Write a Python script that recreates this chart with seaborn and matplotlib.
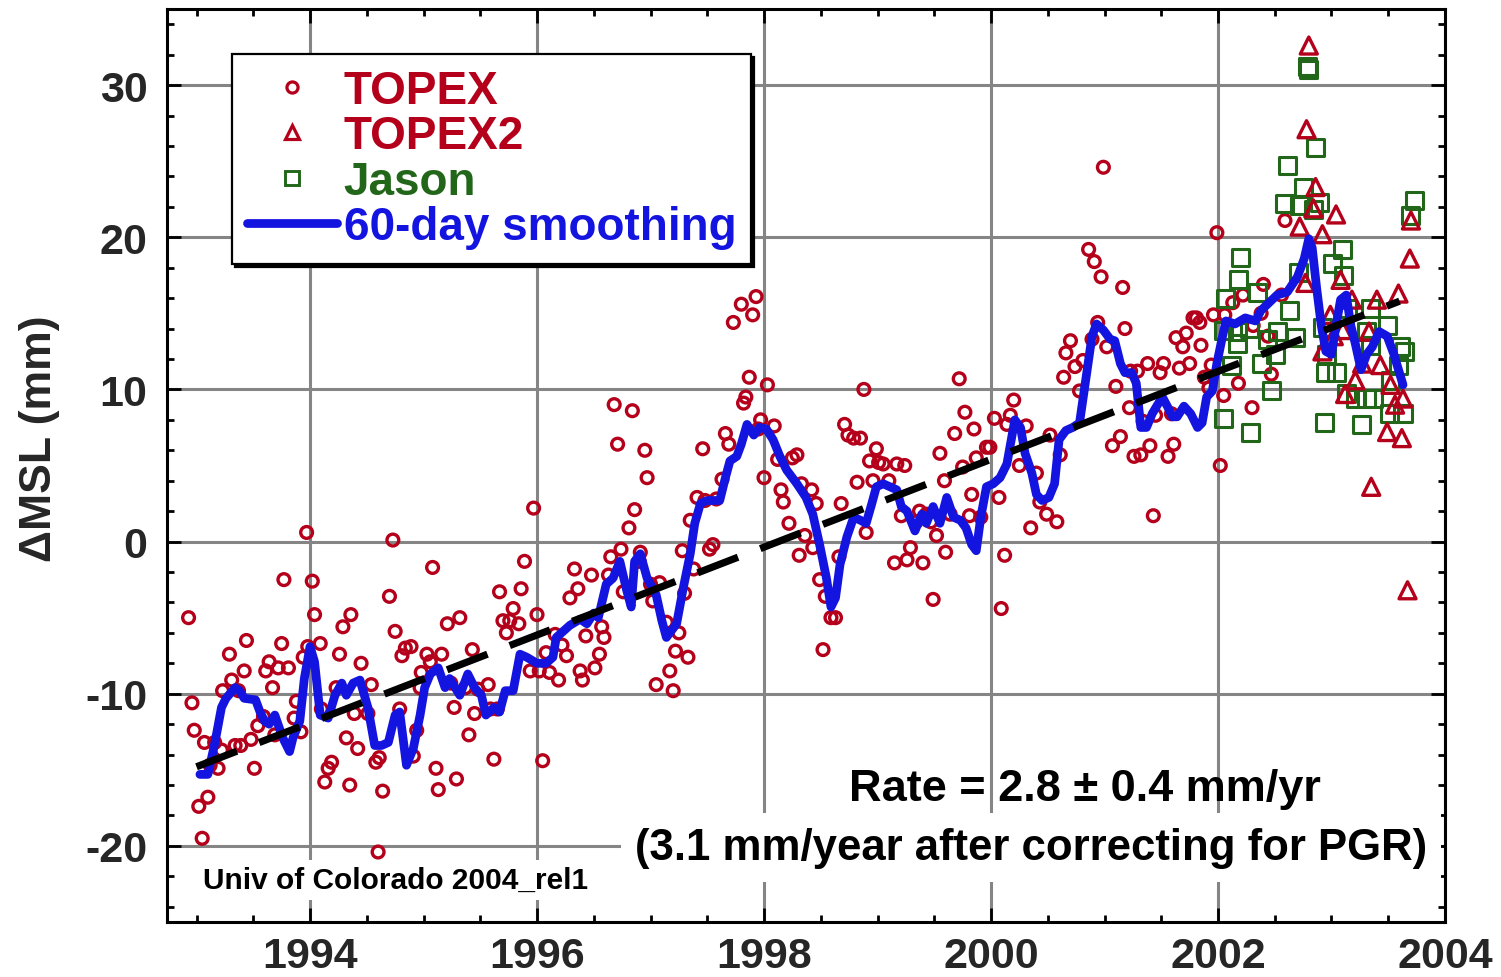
import matplotlib
matplotlib.use("Agg")
import matplotlib.pyplot as plt
from matplotlib.lines import Line2D
from matplotlib.ticker import MultipleLocator
import seaborn as sns
import pandas as pd

# ---------------- data ----------------
topex_year = [1992.93, 1992.96, 1992.98, 1993.02, 1993.05, 1993.07, 1993.10, 1993.12, 1993.16, 1993.19,
              1993.22, 1993.23, 1993.29, 1993.31, 1993.34, 1993.37, 1993.39, 1993.42, 1993.44, 1993.48,
              1993.51, 1993.54, 1993.59, 1993.61, 1993.64, 1993.67, 1993.69, 1993.72, 1993.75, 1993.77,
              1993.81, 1993.86, 1993.88, 1993.92, 1993.94, 1993.97, 1993.98, 1994.02, 1994.04, 1994.09,
              1994.10, 1994.13, 1994.16, 1994.19, 1994.23, 1994.26, 1994.29, 1994.32, 1994.35, 1994.36,
              1994.39, 1994.42, 1994.45, 1994.51, 1994.54, 1994.58, 1994.60, 1994.61, 1994.64, 1994.70,
              1994.73, 1994.75, 1994.79, 1994.81, 1994.84, 1994.89, 1994.91, 1994.94, 1994.97, 1994.98,
              1995.03, 1995.06, 1995.08, 1995.11, 1995.13, 1995.16, 1995.21, 1995.24, 1995.27, 1995.29,
              1995.32, 1995.37, 1995.40, 1995.43, 1995.45, 1995.48, 1995.57, 1995.59, 1995.62, 1995.65,
              1995.67, 1995.70, 1995.73, 1995.76, 1995.79, 1995.84, 1995.86, 1995.89, 1995.94, 1995.97,
              1996.00, 1996.02, 1996.05, 1996.08, 1996.11, 1996.16, 1996.19, 1996.22, 1996.26, 1996.29,
              1996.33, 1996.36, 1996.38, 1996.40, 1996.43, 1996.48, 1996.51, 1996.55, 1996.57, 1996.59,
              1996.63, 1996.65, 1996.68, 1996.71, 1996.74, 1996.76, 1996.81, 1996.84, 1996.86, 1996.90,
              1996.91, 1996.95, 1996.97, 1997.00, 1997.02, 1997.05, 1997.08, 1997.14, 1997.17, 1997.20,
              1997.22, 1997.25, 1997.28, 1997.30, 1997.33, 1997.35, 1997.38, 1997.41, 1997.46, 1997.48,
              1997.52, 1997.55, 1997.58, 1997.63, 1997.66, 1997.69, 1997.73, 1997.80, 1997.82, 1997.84,
              1997.87, 1997.90, 1997.93, 1997.95, 1997.97, 1998.00, 1998.03, 1998.09, 1998.12, 1998.15,
              1998.17, 1998.22, 1998.25, 1998.29, 1998.31, 1998.33, 1998.36, 1998.42, 1998.43, 1998.46,
              1998.49, 1998.52, 1998.54, 1998.59, 1998.63, 1998.66, 1998.68, 1998.71, 1998.74, 1998.79,
              1998.82, 1998.85, 1998.88, 1998.90, 1998.93, 1998.96, 1998.99, 1999.01, 1999.05, 1999.10,
              1999.15, 1999.17, 1999.21, 1999.24, 1999.26, 1999.29, 1999.34, 1999.37, 1999.40, 1999.43,
              1999.47, 1999.49, 1999.52, 1999.55, 1999.59, 1999.60, 1999.64, 1999.68, 1999.72, 1999.75,
              1999.77, 1999.81, 1999.83, 1999.85, 1999.87, 1999.91, 1999.96, 1999.99, 2000.03, 2000.07,
              2000.09, 2000.12, 2000.14, 2000.17, 2000.20, 2000.25, 2000.31, 2000.35, 2000.40, 2000.43,
              2000.49, 2000.52, 2000.58, 2000.61, 2000.64, 2000.66, 2000.70, 2000.74, 2000.78, 2000.81,
              2000.86, 2000.89, 2000.91, 2000.94, 2000.97, 2000.99, 2001.02, 2001.07, 2001.10, 2001.14,
              2001.16, 2001.18, 2001.22, 2001.23, 2001.26, 2001.29, 2001.32, 2001.34, 2001.38, 2001.40,
              2001.43, 2001.45, 2001.49, 2001.52, 2001.56, 2001.59, 2001.61, 2001.63, 2001.66, 2001.69,
              2001.72, 2001.75, 2001.78, 2001.81, 2001.84, 2001.85, 2001.88, 2001.92, 2001.94, 2001.96,
              2001.99, 2002.02, 2002.05, 2002.06, 2002.13, 2002.18, 2002.22, 2002.30, 2002.31, 2002.38,
              2002.40, 2002.44, 2002.47, 2002.56, 2002.59]
topex_mm = [-5.0, -10.6, -12.4, -17.4, -19.5, -13.2, -16.8, -14.7, -13.2, -14.9,
            -13.7, -9.8, -7.4, -9.1, -13.4, -9.8, -13.4, -8.5, -6.5, -13.0,
            -14.9, -12.1, -11.5, -8.5, -7.9, -9.6, -12.7, -8.3, -6.7, -2.5,
            -8.3, -11.6, -10.5, -12.5, -7.6, 0.6, -6.9, -2.6, -4.8, -6.7,
            -11.0, -15.8, -14.9, -14.5, -9.6, -7.4, -5.6, -12.9, -16.0, -4.8,
            -11.3, -13.6, -8.0, -11.3, -9.4, -14.5, -20.4, -14.2, -16.4, -3.6,
            0.1, -5.9, -11.0, -7.5, -7.0, -6.9, -14.1, -12.4, -9.6, -8.6,
            -7.4, -7.9, -1.7, -14.9, -16.3, -7.4, -5.4, -9.3, -10.9, -15.6,
            -5.0, -9.6, -12.7, -7.1, -11.3, -9.7, -9.4, -11.0, -14.3, -11.0,
            -3.3, -5.2, -6.0, -5.2, -4.4, -5.4, -3.1, -1.3, -8.5, 2.2,
            -4.8, -8.5, -14.4, -7.3, -8.6, -6.1, -9.1, -6.8, -7.5, -3.7,
            -1.8, -3.1, -8.5, -9.1, -6.2, -2.2, -8.3, -7.4, -5.6, -6.3,
            -2.2, -1.0, 9.0, 6.4, -0.5, -3.3, 0.9, 8.6, 2.1, -1.3,
            -0.7, 6.0, 4.2, -2.8, -3.9, -9.4, -2.7, -5.3, -8.5, -9.8,
            -7.2, -6.0, -0.6, -3.4, -7.6, 1.4, -1.8, 2.9, 6.1, 2.7,
            -0.5, -0.2, 2.8, 4.1, 7.1, 6.4, 14.4, 15.6, 9.1, 9.5,
            10.8, 14.9, 16.1, 7.4, 8.0, 4.2, 10.3, 7.6, 5.4, 3.4,
            2.6, 1.2, 5.5, 5.7, -0.9, 3.8, 0.4, 3.4, -0.4, 2.5,
            -2.5, -7.1, -3.6, -5.0, -5.0, -1.0, 2.5, 7.7, 7.0, 6.8,
            3.9, 6.8, 10.0, 0.6, 5.3, 4.0, 6.1, 5.2, 5.1, 4.0,
            -1.4, 5.1, 1.7, 5.0, -1.2, -0.4, 1.3, 2.0, -1.4, 1.8,
            1.3, -3.8, 0.4, 5.8, 4.0, -0.7, 1.8, 7.1, 10.7, 4.9,
            8.5, 1.7, 3.1, 7.4, 5.5, 1.6, 6.2, 6.2, 8.1, 2.9,
            -4.4, -0.9, 7.7, 8.3, 9.3, 5.0, 7.6, 0.9, 4.5, 2.6,
            1.8, 7.0, 1.3, 5.7, 10.8, 12.4, 13.2, 11.5, 9.9, 11.9,
            19.2, 13.3, 18.4, 14.4, 17.4, 24.6, 12.8, 6.3, 10.2, 6.9,
            16.7, 14.0, 8.8, 11.2, 5.6, 11.2, 5.7, 7.9, 11.7, 6.3,
            1.7, 8.3, 11.1, 11.7, 5.6, 8.4, 6.4, 13.4, 11.4, 12.8,
            13.7, 11.7, 14.7, 14.7, 14.4, 12.9, 10.8, 10.1, 11.6, 14.9,
            20.3, 5.0, 9.6, 14.9, 15.7, 10.4, 16.2, 8.8, 14.2, 15.0,
            16.9, 13.5, 11.0, 16.2, 21.1]

topex2_year = [2002.72, 2002.77, 2002.78, 2002.80, 2002.84, 2002.86, 2002.92, 2002.92, 2002.99, 2003.02,
               2003.04, 2003.08, 2003.10, 2003.12, 2003.18, 2003.21, 2003.27, 2003.33, 2003.35, 2003.40,
               2003.43, 2003.49, 2003.52, 2003.56, 2003.59, 2003.62, 2003.63, 2003.67, 2003.69, 2003.70]
topex2_mm = [20.7, 17.0, 27.1, 32.6, 21.9, 23.3, 20.2, 12.5, 14.9, 13.5,
             21.5, 17.2, 13.9, 9.7, 15.9, 10.6, 11.7, 13.8, 3.6, 15.9,
             11.6, 7.2, 10.3, 9.0, 16.3, 6.8, 9.4, -3.2, 18.6, 21.1]

jason_year = [2002.05, 2002.05, 2002.07, 2002.12, 2002.17, 2002.17, 2002.18, 2002.20, 2002.28, 2002.29,
              2002.35, 2002.38, 2002.44, 2002.47, 2002.51, 2002.52, 2002.59, 2002.61, 2002.63, 2002.68,
              2002.71, 2002.72, 2002.75, 2002.79, 2002.80, 2002.84, 2002.86, 2002.89, 2002.92, 2002.94,
              2002.95, 2002.96, 2003.01, 2003.04, 2003.10, 2003.11, 2003.13, 2003.14, 2003.21, 2003.26,
              2003.31, 2003.31, 2003.34, 2003.34, 2003.37, 2003.49, 2003.51, 2003.52, 2003.59, 2003.61,
              2003.63, 2003.64, 2003.70, 2003.73]
jason_mm = [13.9, 8.1, 16.0, 11.6, 13.8, 13.0, 17.2, 18.7, 14.0, 7.2,
            16.4, 11.7, 13.3, 9.9, 12.3, 13.8, 22.2, 24.7, 15.2, 13.4,
            17.7, 22.1, 23.3, 31.2, 31.0, 21.8, 25.9, 22.3, 14.1, 7.8,
            11.1, 12.3, 18.3, 11.1, 19.2, 17.5, 9.7, 15.3, 9.4, 7.7,
            13.8, 9.4, 15.3, 12.9, 9.4, 14.2, 8.4, 10.6, 11.6, 12.8,
            8.4, 12.5, 21.4, 22.4]

smooth_year = [1993.03, 1993.10, 1993.16, 1993.22, 1993.26, 1993.34, 1993.38, 1993.42, 1993.52, 1993.56,
               1993.60, 1993.64, 1993.69, 1993.76, 1993.82, 1993.85, 1993.91, 1993.95, 1994.00, 1994.04,
               1994.09, 1994.16, 1994.22, 1994.28, 1994.32, 1994.38, 1994.44, 1994.51, 1994.57, 1994.63,
               1994.69, 1994.75, 1994.79, 1994.85, 1994.91, 1994.97, 1995.01, 1995.06, 1995.13, 1995.19,
               1995.23, 1995.32, 1995.39, 1995.45, 1995.51, 1995.55, 1995.62, 1995.67, 1995.72, 1995.79,
               1995.85, 1995.91, 1996.00, 1996.08, 1996.14, 1996.17, 1996.23, 1996.29, 1996.38, 1996.44,
               1996.50, 1996.54, 1996.61, 1996.67, 1996.73, 1996.79, 1996.83, 1996.86, 1996.91, 1996.97,
               1997.05, 1997.10, 1997.14, 1997.23, 1997.29, 1997.35, 1997.39, 1997.44, 1997.50, 1997.61,
               1997.66, 1997.70, 1997.76, 1997.80, 1997.85, 1997.91, 1997.96, 1998.02, 1998.08, 1998.14,
               1998.20, 1998.29, 1998.37, 1998.43, 1998.49, 1998.55, 1998.59, 1998.63, 1998.67, 1998.73,
               1998.79, 1998.85, 1998.90, 1998.95, 1998.99, 1999.05, 1999.11, 1999.17, 1999.21, 1999.26,
               1999.33, 1999.39, 1999.43, 1999.49, 1999.55, 1999.61, 1999.67, 1999.73, 1999.78, 1999.83,
               1999.87, 1999.91, 1999.96, 2000.02, 2000.08, 2000.14, 2000.21, 2000.26, 2000.30, 2000.36,
               2000.40, 2000.45, 2000.51, 2000.56, 2000.60, 2000.66, 2000.72, 2000.78, 2000.83, 2000.89,
               2000.93, 2000.99, 2001.05, 2001.09, 2001.14, 2001.18, 2001.24, 2001.28, 2001.32, 2001.37,
               2001.42, 2001.46, 2001.51, 2001.56, 2001.60, 2001.64, 2001.70, 2001.76, 2001.82, 2001.86,
               2001.90, 2001.95, 2001.99, 2002.04, 2002.07, 2002.15, 2002.24, 2002.33, 2002.38, 2002.52,
               2002.61, 2002.70, 2002.76, 2002.80, 2002.83, 2002.87, 2002.91, 2002.95, 2003.00, 2003.04,
               2003.08, 2003.13, 2003.17, 2003.21, 2003.26, 2003.31, 2003.36, 2003.42, 2003.49, 2003.55,
               2003.63]
smooth_mm = [-15.3, -15.3, -13.3, -10.9, -10.3, -9.6, -9.8, -10.3, -10.4, -11.2,
             -11.8, -12.0, -11.4, -12.9, -13.8, -12.9, -11.8, -9.0, -6.9, -7.9,
             -11.4, -11.6, -10.1, -9.3, -10.1, -9.3, -9.1, -10.9, -13.4, -13.4,
             -13.2, -11.4, -11.2, -14.7, -13.6, -11.4, -9.6, -8.7, -8.3, -9.6,
             -9.0, -10.1, -8.7, -9.6, -10.1, -11.4, -10.9, -11.2, -9.8, -9.8,
             -7.4, -7.6, -8.0, -8.0, -7.6, -6.3, -5.9, -5.5, -5.1, -5.4,
             -4.7, -5.0, -2.8, -2.4, -1.3, -3.2, -4.3, -1.3, -0.8, -2.4,
             -3.5, -5.2, -6.3, -5.4, -3.0, -0.8, 1.2, 2.5, 2.7, 2.7,
             4.2, 5.3, 5.6, 6.4, 7.7, 7.0, 7.5, 7.4, 6.7, 5.6,
             4.7, 3.8, 2.9, 1.8, -0.2, -2.4, -4.3, -3.7, -1.5, 0.3,
             1.6, 1.4, 1.2, 2.5, 3.6, 3.8, 3.6, 3.4, 2.3, 2.0,
             0.7, 1.8, 1.2, 2.3, 1.2, 2.9, 1.6, 1.4, 0.9, -0.2,
             -0.6, 1.6, 3.6, 3.8, 4.2, 5.1, 8.0, 7.5, 5.8, 4.5,
             3.1, 2.7, 2.9, 3.8, 6.7, 7.3, 7.5, 7.8, 10.4, 13.5,
             14.3, 13.9, 13.3, 13.2, 11.7, 11.1, 11.1, 10.4, 7.5, 7.5,
             8.4, 8.9, 9.5, 8.8, 8.2, 8.2, 8.9, 8.4, 7.5, 7.8,
             9.5, 9.9, 11.7, 13.5, 14.5, 14.3, 14.7, 14.5, 15.2, 16.2,
             16.4, 17.4, 18.6, 19.9, 19.3, 16.6, 14.2, 12.5, 12.3, 14.2,
             15.9, 16.2, 14.2, 13.0, 11.3, 12.3, 12.8, 13.8, 13.5, 12.3,
             10.3]

trend_year = [1993.0, 2003.6]
trend_mm = [-14.8, 15.8]

x_ticks = [1994, 1996, 1998, 2000, 2002, 2004]
y_ticks = [-20, -10, 0, 10, 20, 30]

# ---------------- style ----------------
sns.set_theme(style="white")
plt.rcParams['font.family'] = ['Liberation Sans', 'DejaVu Sans']
plt.rcParams['font.weight'] = 'bold'

RED = '#b4001a'
GREEN = '#22661a'
BLUE = '#1414e0'
GRID = '#858585'

fig = plt.figure(figsize=(15.01, 9.78), dpi=100)
ax = fig.add_axes([0.11126, 0.05624, 0.85143, 0.93354])

df_t = pd.DataFrame({'year': topex_year, 'mm': topex_mm})
df_t2 = pd.DataFrame({'year': topex2_year, 'mm': topex2_mm})
df_j = pd.DataFrame({'year': jason_year, 'mm': jason_mm})
df_s = pd.DataFrame({'year': smooth_year, 'mm': smooth_mm})
df_tr = pd.DataFrame({'year': trend_year, 'mm': trend_mm})

sns.scatterplot(data=df_t, x='year', y='mm', ax=ax, marker='o', s=72,
                facecolor='none', edgecolor=RED, linewidth=2.4, zorder=3)
sns.scatterplot(data=df_j, x='year', y='mm', ax=ax, marker='s', s=150,
                facecolor='none', edgecolor=GREEN, linewidth=2.2, zorder=3)
sns.scatterplot(data=df_t2, x='year', y='mm', ax=ax, marker='^', s=150,
                facecolor='none', edgecolor=RED, linewidth=2.4, zorder=3)
sns.lineplot(data=df_s, x='year', y='mm', ax=ax, color=BLUE, linewidth=6.3,
             estimator=None, zorder=4)
sns.lineplot(data=df_tr, x='year', y='mm', ax=ax, color='black', linewidth=5.2,
             estimator=None, zorder=5, dashes=False, linestyle=(0, (6, 3.3)))

ax.set_xlim(1992.74, 2004.0)
ax.set_ylim(-25, 35)
ax.set_xticks(x_ticks)
ax.set_yticks(y_ticks)
ax.xaxis.set_minor_locator(MultipleLocator(0.5))
ax.yaxis.set_minor_locator(MultipleLocator(2))
ax.set_xticklabels([str(t) for t in x_ticks], fontsize=31, fontweight='bold')
ax.set_yticklabels([str(t) for t in y_ticks], fontsize=31, fontweight='bold')
ax.tick_params(which='both', direction='in', top=True, right=True, bottom=True, left=True,
               color='black', width=2.0)
ax.tick_params(which='major', length=10, pad=10)
ax.tick_params(which='minor', length=5)
ax.tick_params(axis='y', which='major', pad=14)
ax.grid(True, which='major', color=GRID, linewidth=2.2)
ax.set_axisbelow(True)
for sp in ax.spines.values():
    sp.set_color('black')
    sp.set_linewidth(2.2)

ax.set_xlabel('')
ax.set_ylabel('ΔMSL (mm)', fontsize=32, fontweight='bold')
ax.yaxis.set_label_coords(-0.084, 0.53)

# legend
handles = [
    Line2D([], [], linestyle='none', marker='o', markersize=8, markerfacecolor='none',
           markeredgecolor=RED, markeredgewidth=2.3),
    Line2D([], [], linestyle='none', marker='^', markersize=9.5, markerfacecolor='none',
           markeredgecolor=RED, markeredgewidth=2.3),
    Line2D([], [], linestyle='none', marker='s', markersize=9.5, markerfacecolor='none',
           markeredgecolor=GREEN, markeredgewidth=2.1),
    Line2D([], [], color=BLUE, linewidth=6.3),
]
labels = ['TOPEX', 'TOPEX2', 'Jason', '60-day smoothing']
leg = ax.legend(handles, labels, loc='upper left', bbox_to_anchor=(0.051, 0.951),
                borderaxespad=0, prop={'weight': 'bold', 'size': 33},
                handlelength=1.95, handletextpad=0.15, labelspacing=0.03,
                borderpad=0.33, fancybox=False, framealpha=1, edgecolor='black',
                shadow={'color': 'black', 'alpha': 1.0})
leg.get_frame().set_linewidth(1.6)
for txt, c in zip(leg.get_texts(), [RED, RED, GREEN, BLUE]):
    txt.set_color(c)
leg.set_zorder(10)

# annotations
ax.text(0.718, 0.146, 'Rate = 2.8 ± 0.4 mm/yr', transform=ax.transAxes, ha='center', va='center',
        fontsize=32.5, fontweight='bold', color='black', zorder=6)
ax.text(0.676, 0.0821, '(3.1 mm/year after correcting for PGR)', transform=ax.transAxes,
        ha='center', va='center', fontsize=31.5, fontweight='bold', color='black', zorder=6,
        bbox=dict(facecolor='white', edgecolor='none', pad=10))
ax.text(0.179, 0.046, 'Univ of Colorado 2004_rel1', transform=ax.transAxes, ha='center',
        va='center', fontsize=21.5, fontweight='bold', color='black', zorder=6,
        bbox=dict(facecolor='white', edgecolor='none', pad=4))

fig.savefig('out.png', dpi=100, facecolor='white')
